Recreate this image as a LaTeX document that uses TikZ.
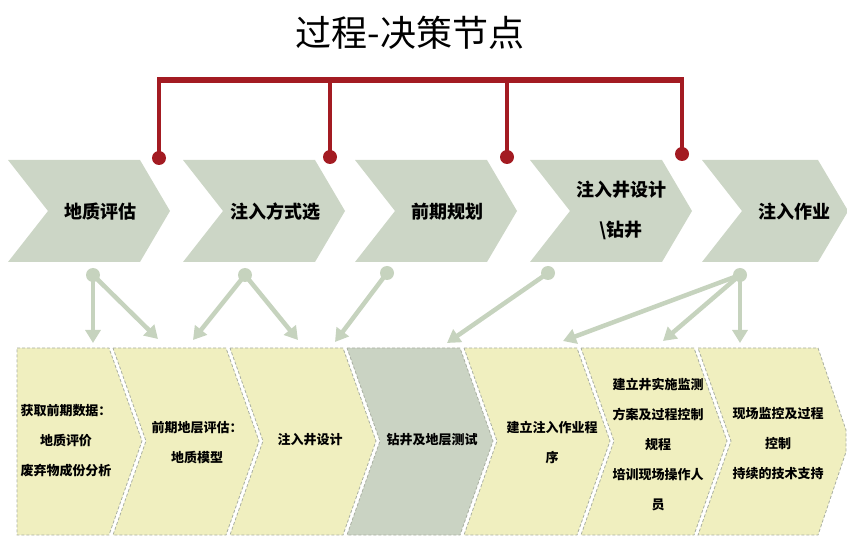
\documentclass[tikz,border=0pt]{standalone}
\usepackage{fontspec}
\newfontfamily\cjk{Noto Sans CJK SC}
\usetikzlibrary{arrows.meta}
\definecolor{redline}{HTML}{A31B22}
\definecolor{topfill}{HTML}{CCD6C6}
\definecolor{arrowc}{HTML}{C6D3BE}
\definecolor{yfill}{HTML}{F0EFBF}
\definecolor{gfill}{HTML}{CAD3C3}
\definecolor{edgec}{HTML}{A9AFA2}
\tikzset{
  toptxt/.style={font=\cjk\bfseries\fontsize{18}{40}\selectfont, align=center, inner sep=0pt},
  bottxt/.style={font=\cjk\bfseries\fontsize{13}{30}\selectfont, align=center, inner sep=0pt},
  titletxt/.style={font=\cjk\fontsize{36}{40}\selectfont, inner sep=0pt},
  rdot/.style={circle, fill=redline, minimum size=14pt, inner sep=0pt},
  redv/.style={draw=redline, line width=3.5pt},
  redbar/.style={draw=redline, line width=6pt, shorten <=-1.75pt, shorten >=-1.75pt},
  gdot/.style={circle, fill=arrowc, minimum size=14pt, inner sep=0pt},
  garrow/.style={draw=arrowc, line width=4.5pt, -{Triangle[length=13pt,width=15pt]}},
  botshape/.style={draw=edgec, line width=0.8pt, densely dashed},
}
\begin{document}
\begin{tikzpicture}[x=1pt,y=-1pt]
\useasboundingbox (0,0) rectangle (847,537);
% title
\node[titletxt] (title) at (410,33) {过程-决策节点};
% top chevrons
\foreach \x in {8,183,355,530}
  \fill[topfill] (\x,160) -- (\x+132,160) -- (\x+162,211) -- (\x+132,262) -- (\x,262) -- (\x+40,211) -- cycle;
\fill[topfill] (702,160) -- (818,160) -- (847,209) -- (847,213) -- (818,262) -- (702,262) -- (742,211) -- cycle;
\node[toptxt] (t1) at (100,212) {地质评估};
\node[toptxt] (t2) at (275,212) {注入方式选};
\node[toptxt] (t3) at (447,212) {前期规划};
\node[toptxt] (t4) at (621,210) {注入井设计\\\textbackslash 钻井};
\node[toptxt] (t5) at (794,212) {注入作业};
% red decision bracket
\coordinate (b1) at (159,80);
\coordinate (b2) at (330,80);
\coordinate (b3) at (507,80);
\coordinate (b4) at (682,80);
\node[rdot] (r1) at (159,158) {};
\node[rdot] (r2) at (330,157) {};
\node[rdot] (r3) at (507,157) {};
\node[rdot] (r4) at (682,154) {};
\draw[redv] (b1) -- (r1.center);
\draw[redv] (b2) -- (r2.center);
\draw[redv] (b3) -- (r3.center);
\draw[redv] (b4) -- (r4.center);
\draw[redbar] (b1) -- (b4);
% bottom chevrons
\filldraw[botshape, fill=yfill] (17,348) -- (109,348) -- (142,441) -- (109,535) -- (17,535) -- cycle;
\foreach \x/\c in {113/yfill,230/yfill,347/gfill,464/yfill,581/yfill}
  \filldraw[botshape, fill=\c] (\x,348) -- (\x+113,348) -- (\x+146,441) -- (\x+113,535) -- (\x,535) -- (\x+33,441) -- cycle;
\filldraw[botshape, fill=yfill] (698,348) -- (818,348) -- (846,430) -- (846,452) -- (818,535) -- (698,535) -- (731,441) -- cycle;
\node[bottxt] (s1) at (66,441) {获取前期数据：\\地质评价\\废弃物成份分析};
\node[bottxt] (s2) at (197,443) {前期地层评估：\\地质模型};
\node[bottxt] (s3) at (310,440) {注入井设计};
\node[bottxt] (s4) at (432,440) {钻井及地层测试};
\node[bottxt] (s5) at (552,442) {建立注入作业程\\序};
\node[bottxt] (s6) at (658,445) {建立井实施监测\\方案及过程控制\\规程\\培训现场操作人\\员};
\node[bottxt] (s7) at (778,444) {现场监控及过程\\控制\\持续的技术支持};
% grey connectors
\node[gdot] (g1) at (93,275) {};
\node[gdot] (g2) at (245,275) {};
\node[gdot] (g3) at (387,273) {};
\node[gdot] (g4) at (548,273) {};
\node[gdot] (g5) at (740,275) {};
\coordinate (a1) at (93,343);
\coordinate (a2) at (158,339);
\coordinate (a3) at (193,340);
\coordinate (a4) at (298,340);
\coordinate (a5) at (335,342);
\coordinate (a6) at (447,343);
\coordinate (a7) at (563,341);
\coordinate (a8) at (663,341);
\coordinate (a9) at (740,343);
\draw[garrow] (g1.center) -- (a1);
\draw[garrow] (g1.center) -- (a2);
\draw[garrow] (g2.center) -- (a3);
\draw[garrow] (g2.center) -- (a4);
\draw[garrow] (g3.center) -- (a5);
\draw[garrow] (g4.center) -- (a6);
\draw[garrow] (g5.center) -- (a7);
\draw[garrow] (g5.center) -- (a8);
\draw[garrow] (g5.center) -- (a9);
\end{tikzpicture}
\end{document}
